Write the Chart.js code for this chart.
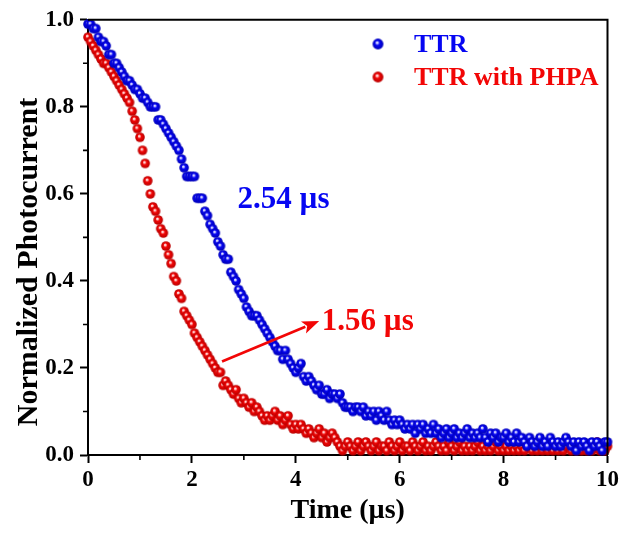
<!DOCTYPE html>
<html>
<head>
<meta charset="utf-8">
<script src="https://cdn.jsdelivr.net/npm/chart.js@4.4.1/dist/chart.umd.min.js"></script>
<style>
html,body{margin:0;padding:0;background:#fff;}
#wrap{width:622px;height:533px;}
</style>
</head>
<body>
<div id="wrap"><canvas id="c" width="622" height="533"></canvas></div>
<script>
// ---- data ----
const seriesNames = ["TTR", "TTR with PHPA"];
const timeStep = 0.05; // µs sampling interval
const xTicks = [0, 2, 4, 6, 8, 10];
const yTicks = [0.0, 0.2, 0.4, 0.6, 0.8, 1.0];
const ttr = [
  0.99,0.99,0.98,0.98,0.96,0.95,0.95,0.94,0.92,0.92,0.90,0.90,0.89,0.88,0.87,0.86,0.86,0.85,0.84,0.84,
  0.83,0.82,0.82,0.81,0.80,0.80,0.80,0.77,0.77,0.76,0.75,0.74,0.73,0.72,0.71,0.70,0.68,0.66,0.64,0.64,
  0.64,0.64,0.59,0.59,0.59,0.56,0.55,0.53,0.52,0.51,0.49,0.48,0.46,0.45,0.45,0.42,0.41,0.40,0.38,0.37,
  0.36,0.34,0.33,0.32,0.32,0.32,0.31,0.30,0.29,0.28,0.27,0.26,0.25,0.24,0.24,0.22,0.24,0.22,0.21,0.20,
  0.19,0.20,0.21,0.18,0.17,0.18,0.17,0.16,0.15,0.16,0.14,0.14,0.15,0.13,0.14,0.14,0.13,0.14,0.12,0.11,
  0.11,0.11,0.10,0.11,0.11,0.10,0.11,0.09,0.10,0.09,0.10,0.08,0.10,0.09,0.08,0.10,0.08,0.07,0.08,0.07,
  0.08,0.07,0.06,0.07,0.06,0.07,0.05,0.07,0.06,0.07,0.05,0.06,0.05,0.07,0.05,0.06,0.04,0.05,0.06,0.04,
  0.05,0.06,0.04,0.05,0.04,0.05,0.06,0.04,0.05,0.04,0.05,0.04,0.06,0.04,0.03,0.05,0.04,0.05,0.03,0.04,
  0.04,0.05,0.03,0.04,0.03,0.05,0.03,0.04,0.03,0.02,0.04,0.03,0.02,0.03,0.04,0.02,0.03,0.02,0.04,0.03,
  0.02,0.03,0.02,0.03,0.04,0.03,0.02,0.03,0.01,0.03,0.02,0.03,0.02,0.01,0.03,0.02,0.03,0.02,0.01,0.03,
  0.03
];
const ttrPhpa = [
  0.96,0.95,0.94,0.93,0.92,0.91,0.90,0.90,0.89,0.88,0.87,0.86,0.85,0.84,0.83,0.82,0.81,0.79,0.77,0.75,
  0.73,0.70,0.67,0.63,0.60,0.57,0.56,0.54,0.52,0.51,0.48,0.46,0.44,0.41,0.40,0.37,0.36,0.33,0.32,0.31,
  0.30,0.28,0.27,0.26,0.25,0.24,0.23,0.22,0.21,0.20,0.19,0.19,0.16,0.17,0.16,0.15,0.14,0.15,0.13,0.12,
  0.13,0.12,0.11,0.12,0.10,0.11,0.10,0.09,0.08,0.09,0.08,0.09,0.10,0.08,0.09,0.07,0.08,0.09,0.07,0.06,
  0.07,0.06,0.07,0.06,0.05,0.06,0.05,0.04,0.05,0.06,0.04,0.05,0.03,0.04,0.05,0.04,0.03,0.02,0.01,0.02,
  0.03,0.02,0.01,0.02,0.03,0.01,0.02,0.03,0.02,0.01,0.02,0.03,0.01,0.02,0.02,0.01,0.03,0.02,0.01,0.02,
  0.03,0.01,0.02,0.02,0.01,0.03,0.02,0.01,0.02,0.03,0.01,0.02,0.01,0.02,0.03,0.02,0.01,0.02,0.01,0.03,
  0.02,0.01,0.02,0.03,0.01,0.02,0.01,0.02,0.01,0.02,0.03,0.01,0.02,0.01,0.02,0.01,0.02,0.03,0.01,0.02,
  0.01,0.02,0.01,0.02,0.01,0.02,0.01,0.02,0.01,0.02,0.03,0.01,0.02,0.01,0.02,0.01,0.02,0.01,0.02,0.01,
  0.02,0.01,0.02,0.01,0.02,0.03,0.01,0.02,0.01,0.02,0.01,0.02,0.01,0.02,0.01,0.02,0.03,0.01,0.02,0.01,
  0.02
];
const lifetimeLabels = ["2.54 µs", "1.56 µs"];
const yTitle = 'Normalized Photocurrent';
const xTitle = 'Time (µs)';
// annotation anchors in data units
const blueLabelAt = [2.88, 0.585];
const redLabelAt = [4.5, 0.305];
const arrowFrom = [2.58, 0.215];
const arrowTo = [4.45, 0.308];

// ---- styling helpers ----
const BLUE = '#0606f2', RED = '#f20606';
const FONT = "'Liberation Serif','Times New Roman',serif";
function makeBall(base, light, dark, r) {
  const s = Math.ceil(r * 2 + 2);
  const cv = document.createElement('canvas');
  cv.width = s; cv.height = s;
  const g = cv.getContext('2d');
  const c = s / 2;
  const grad = g.createRadialGradient(c - r * 0.2, c - r * 0.3, 0, c, c, r);
  grad.addColorStop(0, '#ffffff');
  grad.addColorStop(0.2, light);
  grad.addColorStop(0.42, base);
  grad.addColorStop(1, dark);
  g.fillStyle = grad;
  g.beginPath(); g.arc(c, c, r, 0, Math.PI * 2); g.fill();
  return cv;
}
const blueBall = makeBall(BLUE, '#c0c0ff', '#0000b8', 4.8);
const redBall = makeBall(RED, '#ffc0c0', '#b80000', 4.8);
const blueBallL = makeBall(BLUE, '#c0c0ff', '#0000b8', 5.4);
const redBallL = makeBall(RED, '#ffc0c0', '#b80000', 5.4);

const toPoints = arr => arr.map((v, i) => ({ x: +(i * timeStep).toFixed(2), y: v }));

const extras = {
  id: 'extras',
  afterDraw(chart) {
    const ctx = chart.ctx, a = chart.chartArea;
    const xs = chart.scales.x, ys = chart.scales.y;
    ctx.save();
    // frame top/right
    ctx.strokeStyle = '#000'; ctx.lineWidth = 2;
    ctx.beginPath();
    ctx.moveTo(a.left, a.top); ctx.lineTo(a.right, a.top); ctx.lineTo(a.right, a.bottom);
    ctx.stroke();
    // minor ticks
    ctx.lineWidth = 1.6;
    ctx.beginPath();
    for (let v = 1; v < 10; v += 2) {
      const px = xs.getPixelForValue(v);
      ctx.moveTo(px, a.bottom); ctx.lineTo(px, a.bottom + 5);
    }
    for (let k = 1; k < 10; k += 2) {
      const py = ys.getPixelForValue(k / 10);
      ctx.moveTo(a.left, py); ctx.lineTo(a.left - 5, py);
    }
    ctx.stroke();
    // y axis title (placed slightly below axis centre as in the reference)
    ctx.save();
    ctx.translate(29, 262);
    ctx.rotate(-Math.PI / 2);
    ctx.font = 'bold 30px ' + FONT;
    ctx.fillStyle = '#000';
    ctx.textAlign = 'center';
    ctx.textBaseline = 'middle';
    ctx.fillText(yTitle, 0, 0);
    ctx.restore();
    // legend
    ctx.font = 'bold 26px ' + FONT;
    ctx.textBaseline = 'middle';
    ctx.textAlign = 'left';
    const items = [[blueBallL, BLUE, seriesNames[0], 44], [redBallL, RED, seriesNames[1], 77]];
    items.forEach(([img, col, txt, y]) => {
      ctx.drawImage(img, 378 - img.width / 2, y - img.height / 2);
      ctx.fillStyle = col;
      ctx.fillText(txt, 414, y + 1);
    });
    // annotations
    ctx.font = 'bold 31px ' + FONT;
    ctx.fillStyle = BLUE;
    ctx.fillText(lifetimeLabels[0], xs.getPixelForValue(blueLabelAt[0]), ys.getPixelForValue(blueLabelAt[1]));
    ctx.fillStyle = RED;
    ctx.fillText(lifetimeLabels[1], xs.getPixelForValue(redLabelAt[0]), ys.getPixelForValue(redLabelAt[1]));
    // arrow
    const x1 = xs.getPixelForValue(arrowFrom[0]), y1 = ys.getPixelForValue(arrowFrom[1]);
    const x2 = xs.getPixelForValue(arrowTo[0]), y2 = ys.getPixelForValue(arrowTo[1]);
    const ang = Math.atan2(y2 - y1, x2 - x1);
    const hl = 17, hw = 6.5;
    const bx = x2 - hl * Math.cos(ang), by = y2 - hl * Math.sin(ang);
    ctx.strokeStyle = RED; ctx.lineWidth = 2.6;
    ctx.beginPath(); ctx.moveTo(x1, y1); ctx.lineTo(bx + 2 * Math.cos(ang), by + 2 * Math.sin(ang)); ctx.stroke();
    ctx.fillStyle = RED;
    ctx.beginPath();
    ctx.moveTo(x2, y2);
    ctx.lineTo(bx + hw * Math.sin(ang), by - hw * Math.cos(ang));
    ctx.lineTo(bx + 4 * Math.cos(ang), by + 4 * Math.sin(ang));
    ctx.lineTo(bx - hw * Math.sin(ang), by + hw * Math.cos(ang));
    ctx.closePath(); ctx.fill();
    ctx.restore();
  }
};

new Chart(document.getElementById('c'), {
  type: 'scatter',
  data: {
    datasets: [
      { label: seriesNames[0], data: toPoints(ttr), pointStyle: blueBall, pointRadius: 4.8, backgroundColor: BLUE, borderColor: BLUE, showLine: false },
      { label: seriesNames[1], data: toPoints(ttrPhpa), pointStyle: redBall, pointRadius: 4.8, backgroundColor: RED, borderColor: RED, showLine: false }
    ]
  },
  options: {
    responsive: false,
    animation: false,
    clip: false,
    layout: { padding: { left: 0, right: 14, top: 17, bottom: 0 } },
    plugins: { legend: { display: false }, tooltip: { enabled: false } },
    scales: {
      x: {
        type: 'linear', min: 0, max: 10,
        afterBuildTicks: s => { s.ticks = xTicks.map(v => ({ value: v })); },
        afterFit: s => { s.height = 78; },
        ticks: { font: { family: FONT, size: 23, weight: 'bold' }, color: '#000', padding: 3, maxRotation: 0 },
        grid: { display: true, drawOnChartArea: false, drawTicks: true, tickLength: 8, tickWidth: 2, tickColor: '#000' },
        border: { display: true, color: '#000', width: 2 },
        title: { display: true, text: xTitle, font: { family: FONT, size: 28, weight: 'bold' }, color: '#000', padding: { top: 0, bottom: 5 } }
      },
      y: {
        type: 'linear', min: 0, max: 1,
        afterBuildTicks: s => { s.ticks = yTicks.map(v => ({ value: v })); },
        afterFit: s => { s.width = 88; },
        ticks: { font: { family: FONT, size: 23, weight: 'bold' }, color: '#000', padding: 6, callback: v => v.toFixed(1) },
        grid: { display: true, drawOnChartArea: false, drawTicks: true, tickLength: 8, tickWidth: 2, tickColor: '#000' },
        border: { display: true, color: '#000', width: 2 },
        title: { display: false }
      }
    }
  },
  plugins: [extras]
});
</script>
</body>
</html>
